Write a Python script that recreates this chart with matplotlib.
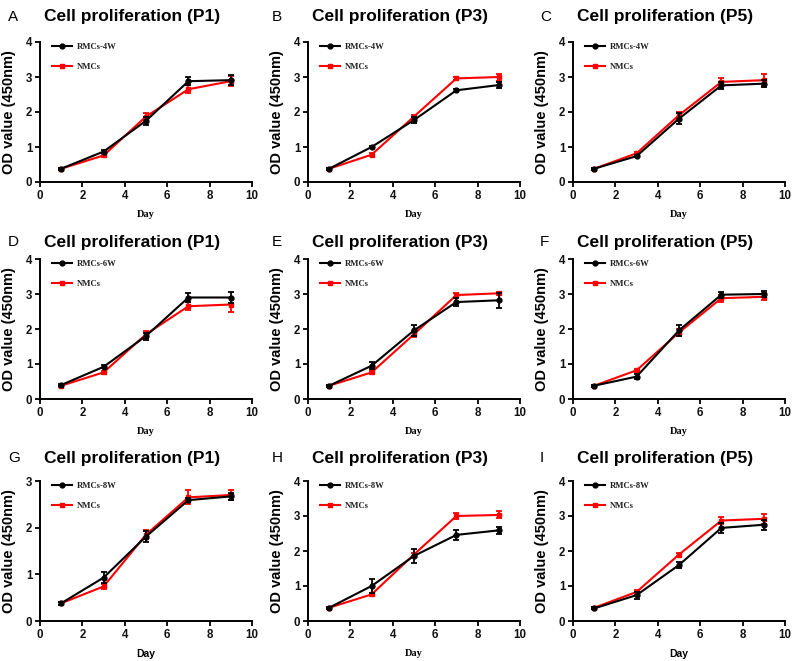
import matplotlib
matplotlib.use("Agg")
import matplotlib.pyplot as plt
from matplotlib.lines import Line2D

days = [1, 3, 5, 7, 9]

panel_letters = ["A", "B", "C", "D", "E", "F", "G", "H", "I"]
panel_titles = ["Cell proliferation (P1)", "Cell proliferation (P3)", "Cell proliferation (P5)"] * 3
rmc_labels = ["RMCs-4W"] * 3 + ["RMCs-6W"] * 3 + ["RMCs-8W"] * 3
nmc_label = "NMCs"
x_label = "Day"
y_label = "OD value (450nm)"
y_max = [4, 4, 4, 4, 4, 4, 3, 4, 4]

rmc_mean = [
    [0.38, 0.87, 1.75, 2.88, 2.91],
    [0.38, 1.00, 1.77, 2.62, 2.77],
    [0.38, 0.74, 1.81, 2.76, 2.81],
    [0.40, 0.92, 1.80, 2.90, 2.90],
    [0.38, 0.95, 1.96, 2.77, 2.82],
    [0.38, 0.64, 1.96, 2.98, 3.00],
    [0.38, 0.93, 1.81, 2.59, 2.67],
    [0.38, 1.00, 1.86, 2.46, 2.59],
    [0.36, 0.74, 1.60, 2.66, 2.75],
]
rmc_err = [
    [0.03, 0.05, 0.12, 0.12, 0.15],
    [0.03, 0.03, 0.08, 0.05, 0.08],
    [0.03, 0.03, 0.15, 0.10, 0.10],
    [0.03, 0.04, 0.10, 0.12, 0.17],
    [0.03, 0.10, 0.15, 0.12, 0.22],
    [0.03, 0.08, 0.15, 0.08, 0.08],
    [0.03, 0.12, 0.12, 0.05, 0.08],
    [0.03, 0.20, 0.20, 0.15, 0.10],
    [0.03, 0.10, 0.08, 0.15, 0.15],
]
nmc_mean = [
    [0.38, 0.76, 1.87, 2.65, 2.88],
    [0.38, 0.78, 1.87, 2.96, 3.00],
    [0.38, 0.82, 1.91, 2.86, 2.91],
    [0.38, 0.76, 1.85, 2.65, 2.70],
    [0.38, 0.76, 1.85, 2.97, 3.02],
    [0.38, 0.82, 1.90, 2.88, 2.92],
    [0.38, 0.74, 1.85, 2.65, 2.70],
    [0.38, 0.76, 1.90, 3.00, 3.03],
    [0.38, 0.83, 1.90, 2.87, 2.92],
]
nmc_err = [
    [0.03, 0.05, 0.10, 0.12, 0.15],
    [0.03, 0.05, 0.05, 0.05, 0.10],
    [0.03, 0.03, 0.08, 0.10, 0.18],
    [0.03, 0.05, 0.10, 0.12, 0.20],
    [0.03, 0.05, 0.08, 0.05, 0.05],
    [0.03, 0.05, 0.10, 0.10, 0.10],
    [0.03, 0.05, 0.10, 0.15, 0.10],
    [0.03, 0.05, 0.05, 0.08, 0.10],
    [0.03, 0.05, 0.05, 0.10, 0.15],
]

W, H = 800, 661
fig = plt.figure(figsize=(W / 100, H / 100), dpi=100)

col_left = [40, 308, 573]
row_top = [42, 259, 481]
ax_w, ax_h = 212, 140
letter_x = [8, 272, 540]
title_y = [17, 242, 458]

sans = "Liberation Sans"
serif = "Liberation Serif"
red = "#ff0000"

for i in range(9):
    r, c = divmod(i, 3)
    left = col_left[c]
    top = row_top[r]
    ax = fig.add_axes([left / W, 1 - (top + ax_h) / H, ax_w / W, ax_h / H])
    ax.errorbar(days, rmc_mean[i], yerr=rmc_err[i], color="black", marker="o",
                markersize=3.5, linewidth=1.5, elinewidth=1.3, capsize=2.5,
                capthick=1.3, zorder=3)
    ax.errorbar(days, nmc_mean[i], yerr=nmc_err[i], color=red, marker="s",
                markersize=3.5, linewidth=1.5, elinewidth=1.3, capsize=2.5,
                capthick=1.3, zorder=2)
    ax.set_xlim(0, 10)
    ax.set_ylim(0, y_max[i])
    ax.set_xticks(range(0, 11, 2))
    ax.set_yticks(range(0, y_max[i] + 1))
    for s in ["top", "right"]:
        ax.spines[s].set_visible(False)
    for s in ["left", "bottom"]:
        ax.spines[s].set_linewidth(1.4)
    ax.tick_params(direction="out", length=3.5, width=1.3, labelsize=8.3, pad=2,
                   labelcolor="#111111")
    for lab in ax.get_xticklabels() + ax.get_yticklabels():
        lab.set_fontweight("bold")
        lab.set_fontfamily(sans)
    day_font = sans if i in (6, 8) else serif
    ax.set_xlabel(x_label, fontsize=7.5, fontweight="bold", family=day_font, labelpad=6)
    ax.set_ylabel(y_label, fontsize=10.5, fontweight="bold", family=sans, labelpad=7)
    handles = [
        Line2D([], [], color="black", marker="o", markersize=3.5, linewidth=1.5),
        Line2D([], [], color=red, marker="s", markersize=3.5, linewidth=1.5),
    ]
    leg = ax.legend(handles, [rmc_labels[i], nmc_label], loc="upper left",
                    bbox_to_anchor=(0.02, 1.05), frameon=False,
                    prop={"family": serif, "weight": "bold", "size": 6.2},
                    handlelength=2.3, handletextpad=0.6, labelspacing=1.45)
    for t in leg.get_texts():
        t.set_color("#222222")

    cx = (left + ax_w / 2 - 14) / W
    fig.text(cx, 1 - title_y[r] / H, panel_titles[i], ha="center", va="center",
             fontsize=12.5, fontweight="bold", family=sans)
    fig.text(letter_x[c] / W, 1 - title_y[r] / H, panel_letters[i], ha="left",
             va="center", fontsize=11, family=sans)

fig.savefig("out.png", dpi=100)
